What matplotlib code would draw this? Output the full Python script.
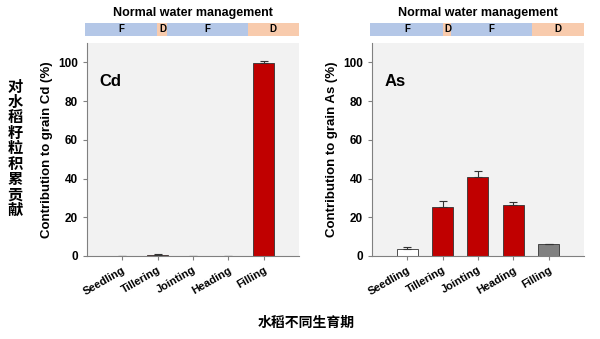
import matplotlib.pyplot as plt

plt.rcParams['font.family'] = ['Liberation Sans', 'Noto Sans CJK SC', 'DejaVu Sans']
plt.rcParams['font.weight'] = 'bold'

stages = ["Seedling", "Tillering", "Jointing", "Heading", "Filling"]

cd_values = [0.0, 0.5, 0.1, 0.0, 99.8]
cd_errors = [0.0, 0.3, 0.1, 0.0, 1.0]
cd_colors = ["#C00000", "#C00000", "#C00000", "#C00000", "#C00000"]

as_values = [3.4, 25.4, 40.6, 26.3, 6.0]
as_errors = [1.1, 3.1, 3.4, 1.8, 0.0]
as_colors = ["#FFFFFF", "#C00000", "#C00000", "#C00000", "#808080"]

# water regime strip: label, start, end (fraction of strip width)
phases_cd = [("F", 0.0, 0.338), ("D", 0.338, 0.385), ("F", 0.385, 0.76), ("D", 0.76, 1.0)]
phases_as = [("F", 0.0, 0.343), ("D", 0.343, 0.38), ("F", 0.38, 0.756), ("D", 0.756, 1.0)]
phase_colors = {"F": "#B4C7E7", "D": "#F8CBAD"}

fig = plt.figure(figsize=(6, 3.39), dpi=100)


def draw_panel(left, values, errors, colors, element, phases):
    ax = fig.add_axes([left, 0.245, 0.353, 0.628])
    ax.set_facecolor("#F2F2F2")
    x = range(len(stages))
    lower = [0] * len(errors)
    ax.bar(x, values, width=0.6, color=colors, edgecolor="#333333", linewidth=0.6,
           yerr=[lower, errors], capsize=3,
           error_kw=dict(ecolor="#333333", elinewidth=0.8, capthick=0.8))
    ax.set_xlim(-1, 5)
    ax.set_ylim(0, 110)
    ax.set_yticks([0, 20, 40, 60, 80, 100])
    ax.set_xticks(list(x))
    ax.set_xticklabels(stages, rotation=30, ha="right", rotation_mode="anchor", fontsize=8)
    ax.tick_params(axis="y", labelsize=8.5, color="#808080", length=3)
    ax.tick_params(axis="x", color="#808080", length=3)
    for s in ["top", "right"]:
        ax.spines[s].set_visible(False)
    for s in ["left", "bottom"]:
        ax.spines[s].set_color("#808080")
    ax.set_ylabel(f"Contribution to grain {element} (%)", fontsize=9.5, fontweight="bold")
    ax.text(0.06, 0.8, element, transform=ax.transAxes, fontsize=12, fontweight="bold")

    strip = fig.add_axes([left - 0.003, 0.894, 0.356, 0.038])
    for label, a, b in phases:
        strip.axvspan(a, b, color=phase_colors[label], lw=0)
        strip.text((a + b) / 2, 0.5, label, ha="center", va="center", fontsize=7,
                   fontweight="bold")
    strip.set_xlim(0, 1)
    strip.set_ylim(0, 1)
    strip.axis("off")
    fig.text(left + 0.176, 0.963, "Normal water management", ha="center", va="center",
             fontsize=9, fontweight="bold")
    return ax


draw_panel(0.145, cd_values, cd_errors, cd_colors, "Cd", phases_cd)
draw_panel(0.62, as_values, as_errors, as_colors, "As", phases_as)

fig.text(0.025, 0.56, "\n".join("对水稻籽粒积累贡献"), ha="center", va="center",
         fontsize=11, fontweight="bold", linespacing=1.12)
fig.text(0.51, 0.047, "水稻不同生育期", ha="center", va="center", fontsize=10,
         fontweight="bold")

fig.savefig("out.png", dpi=100)
